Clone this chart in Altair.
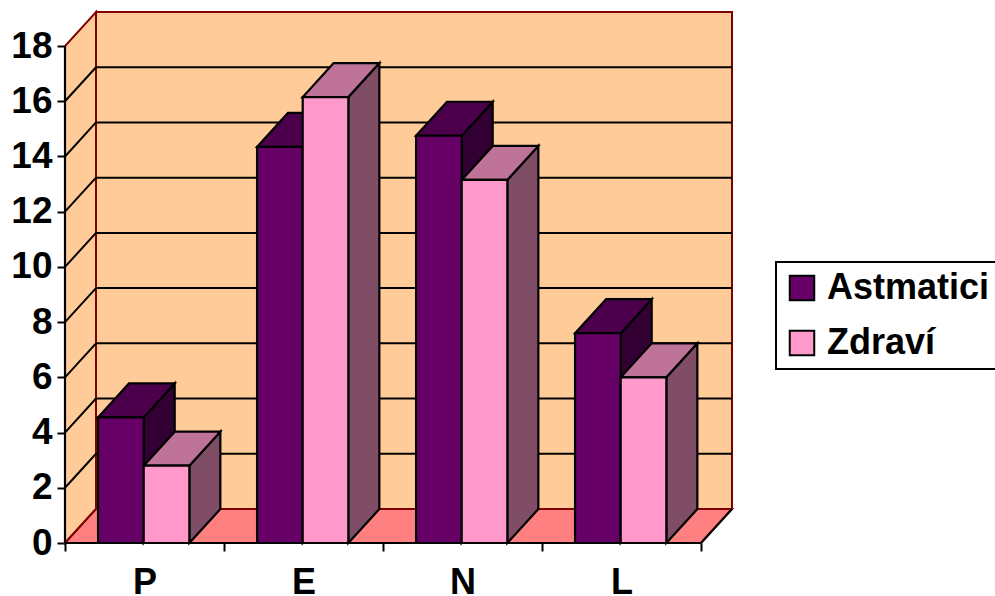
import altair as alt
import pandas as pd

# Chart values
categories = ["P", "E", "N", "L"]
series = ["Astmatici", "Zdraví"]
astmatici = [4.55, 14.35, 14.75, 7.6]
zdravi = [2.8, 16.15, 13.15, 6.0]
y_ticks = [0, 2, 4, 6, 8, 10, 12, 14, 16, 18]

# Colours: front face, top face (lighter shade), side face (darker shade)
front_colors = ["#660066", "#FF99CC"]
top_colors = ["#4C004C", "#BF7399"]
side_colors = ["#330033", "#804D66"]
WALL = "#FFCC99"
FLOOR = "#FF8080"
EDGE = "#800000"
FONT = "Liberation Sans"

# Oblique projection depth, expressed in data units
DX = 0.195   # along the category axis
DY = 1.232   # along the value axis
Y_MAX = 18
N = len(categories)
BAR_START = 0.208
BAR_W = 0.287

fronts, tops, sides = [], [], []
for i, cat in enumerate(categories):
    for s, vals in enumerate([astmatici, zdravi]):
        v = vals[i]
        x0 = i + BAR_START + s * BAR_W
        x1 = x0 + BAR_W
        key = f"{cat}-{s}"
        fronts.append(dict(series=series[s], cat=cat, x=x0, x2=x1, y=0, y2=v))
        tops.append(dict(key=key, fill=top_colors[s], y=v, x=x0, x2=x1))
        tops.append(dict(key=key, fill=top_colors[s], y=v + DY, x=x0 + DX, x2=x1 + DX))
        sides.append(dict(key=key, fill=side_colors[s], x=x1, y=0, y2=v))
        sides.append(dict(key=key, fill=side_colors[s], x=x1 + DX, y=DY, y2=v + DY))

fronts = pd.DataFrame(fronts)
tops = pd.DataFrame(tops)
sides = pd.DataFrame(sides)

xs = alt.Scale(domain=[0, N + DX], nice=False, zero=False)
ys = alt.Scale(domain=[0, Y_MAX + DY], nice=False, zero=False)

x_axis = alt.Axis(
    values=list(range(N + 1)),
    labelExpr="['" + "','".join(categories) + "',''][datum.value]",
    labelOffset=79.5, labelFlush=False, labelAngle=0,
    labelFont=FONT, labelFontSize=36, labelFontWeight="bold", labelColor="black",
    labelPadding=14, tickSize=8, tickWidth=2, tickColor="black",
    domain=False, grid=False, title=None,
)
y_axis = alt.Axis(
    values=y_ticks,
    labelFont=FONT, labelFontSize=37, labelFontWeight="bold", labelColor="black",
    labelPadding=5, tickSize=8, tickWidth=2, tickColor="black",
    domain=False, grid=False, title=None,
)


def X(field="x"):
    return alt.X(f"{field}:Q", scale=xs, axis=x_axis, stack=None)


def Y(field="y"):
    return alt.Y(f"{field}:Q", scale=ys, axis=y_axis, stack=None)


# Back wall
back = alt.Chart(pd.DataFrame([dict(x=DX, x2=N + DX, y=DY, y2=Y_MAX + DY)])).mark_rect(
    fill=WALL, stroke=EDGE, strokeWidth=2
).encode(x=X(), x2="x2", y=Y(), y2="y2")

# Left wall
left = alt.Chart(pd.DataFrame([dict(x=0, y=0, y2=Y_MAX), dict(x=DX, y=DY, y2=Y_MAX + DY)])).mark_area(
    fill=WALL, stroke=EDGE, strokeWidth=2
).encode(x=X(), y=Y(), y2="y2")

# Gridlines on the back wall and on the left wall
grid_vals = pd.DataFrame(dict(v=y_ticks[1:-1]))
grid_back = alt.Chart(grid_vals).transform_calculate(
    y=f"datum.v + {DY}", x=f"{DX}", x2=f"{N + DX}"
).mark_rule(color="black", strokeWidth=2).encode(x=X(), x2="x2:Q", y=Y())
grid_left = alt.Chart(grid_vals).transform_calculate(
    y="datum.v", y2=f"datum.v + {DY}", x="0", x2=f"{DX}"
).mark_rule(color="black", strokeWidth=2).encode(x=X(), x2="x2:Q", y=Y(), y2="y2:Q")

# Floor
floor = alt.Chart(pd.DataFrame([dict(y=0, x=0, x2=N), dict(y=DY, x=DX, x2=N + DX)])).mark_area(
    orient="horizontal", fill=FLOOR, stroke=EDGE, strokeWidth=2
).encode(y=Y(), x=X(), x2="x2")
floor_edge = alt.Chart(pd.DataFrame([dict(x=N, x2=N + DX, y=0, y2=DY)])).mark_rule(
    color="black", strokeWidth=2
).encode(x=X(), x2="x2", y=Y(), y2="y2")

# Bar faces
side_l = alt.Chart(sides).mark_area(stroke="black", strokeWidth=2.2, strokeJoin="miter").encode(
    x=X(), y=Y(), y2="y2", detail="key:N", fill=alt.Fill("fill:N", scale=None)
)
top_l = alt.Chart(tops).mark_area(orient="horizontal", stroke="black", strokeWidth=2.2, strokeJoin="miter").encode(
    y=Y(), x=X(), x2="x2", detail="key:N", fill=alt.Fill("fill:N", scale=None)
)
front_l = alt.Chart(fronts).mark_rect(stroke="black", strokeWidth=2.2, opacity=1).encode(
    x=X(), x2="x2", y=Y(), y2="y2",
    fill=alt.Fill(
        "series:N",
        scale=alt.Scale(domain=series, range=front_colors),
        legend=alt.Legend(
            orient="none", legendX=711, legendY=250, title=None,
            labelFont=FONT, labelFontSize=36, labelFontWeight="bold", labelColor="black",
            labelLimit=400, labelOffset=7,
            symbolType="square", symbolSize=600, symbolStrokeColor="black",
            symbolStrokeWidth=2, symbolOpacity=1,
            fillColor="white", strokeColor="black", padding=8, rowPadding=19,
        ),
    ),
)

# Front axis lines
axis_y = alt.Chart(pd.DataFrame([dict(x=0, y=0, y2=Y_MAX)])).mark_rule(
    color="black", strokeWidth=2.2
).encode(x=X(), y=Y(), y2="y2")
axis_x = alt.Chart(pd.DataFrame([dict(x=0, x2=N, y=0)])).mark_rule(
    color="black", strokeWidth=2.2
).encode(x=X(), x2="x2", y=Y())

chart = alt.layer(
    back, left, grid_back, grid_left, floor, floor_edge,
    side_l, top_l, front_l, axis_y, axis_x,
).properties(
    width=667, height=531,
    autosize=alt.AutoSizeParams(type="none"),
    padding={"left": 65, "top": 12, "right": 263, "bottom": 53},
    background="white",
).configure_view(strokeWidth=0).configure_legend(strokeWidth=2)

chart.save("out.html", embed_options={"renderer": "svg", "actions": False})
